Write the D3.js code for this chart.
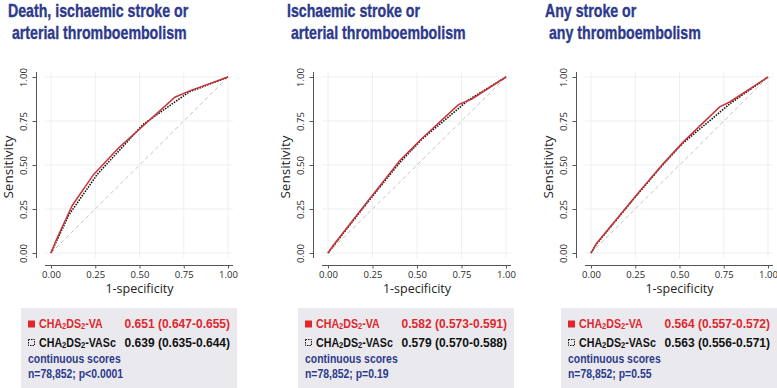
<!DOCTYPE html>
<html>
<head>
<meta charset="utf-8">
<style>
  body { margin: 0; background: #fff; }
  svg { display: block; }
  .title { font-family: "Liberation Sans", Arial, sans-serif; font-weight: bold; fill: #2d3a8c; stroke: #2d3a8c; stroke-width: 0.35px; white-space: pre; }
  .axis text { font-family: "Open Sans", sans-serif; font-size: 9.5px; fill: #2a2a2a; }
  .axis line { stroke: #555; }
  .lab { font-family: "Open Sans", sans-serif; font-size: 12.5px; fill: #222; }
  .leg { font-family: "Liberation Sans", Arial, sans-serif; font-weight: bold; }
  .grid line { stroke: #efefef; stroke-width: 1; }
</style>
</head>
<body>
<script src="https://cdn.jsdelivr.net/npm/d3@7"></script>
<script>
  var width = 777, height = 388;

  // titles, two lines each
  const titles = [
    ["Death, ischaemic stroke or", " arterial thromboembolism"],
    ["Ischaemic stroke or", " arterial thromboembolism"],
    ["Any stroke or", " any thromboembolism"]
  ];

  // ROC points [1-specificity, sensitivity]
  const vaCurves = [
    [[0, 0], [0.03, 0.075], [0.12, 0.27], [0.24, 0.445], [0.38, 0.595], [0.70, 0.885], [0.78, 0.92], [1, 1]],
    [[0, 0], [0.03, 0.044], [0.22, 0.29], [0.405, 0.527], [0.526, 0.649], [0.733, 0.843], [0.808, 0.875], [1, 1]],
    [[0, 0], [0.03, 0.053], [0.256, 0.328], [0.407, 0.507], [0.52, 0.63], [0.727, 0.83], [0.784, 0.858], [1, 1]]
  ];
  const vascCurves = [
    [[0, 0], [0.03, 0.065], [0.10, 0.215], [0.26, 0.445], [0.52, 0.73], [0.78, 0.915], [1, 1]],
    [[0, 0], [0.03, 0.04], [0.22, 0.285], [0.40, 0.51], [0.526, 0.645], [0.79, 0.87], [1, 1]],
    [[0, 0], [0.03, 0.05], [0.256, 0.325], [0.407, 0.503], [0.52, 0.625], [0.79, 0.852], [1, 1]]
  ];

  const vaAuc = ["0.651 (0.647-0.655)", "0.582 (0.573-0.591)", "0.564 (0.557-0.572)"];
  const vascAuc = ["0.639 (0.635-0.644)", "0.579 (0.570-0.588)", "0.563 (0.556-0.571)"];
  const footNotes = ["n=78,852; p<0.0001", "n=78,852; p=0.19", "n=78,852; p=0.55"];
  const tickVals = [0, 0.25, 0.5, 0.75, 1];

  // pixel of x=0 and x=1 per panel, plus title x
  const panelX = [[51, 228], [328, 506], [591, 768]];
  const titleX = [8, 287, 545];

  const red = "#c8343a";
  const redText = "#e0262d";
  const navy = "#2d3a8c";

  var svg = d3.select("body").append("svg")
    .attr("width", width).attr("height", height);

  var y = d3.scaleLinear().domain([0, 1]).range([253, 77]);
  var fmt = d3.format(".2f");

  // regular sans squeezed sideways to look condensed
  function narrowText(g, cls, x, yy, size, sx) {
    return g.append("text").attr("class", cls)
      .attr("transform", "translate(" + x + "," + yy + ") scale(" + sx + ",1)")
      .style("font-size", size + "px");
  }

  function scoreName(sel, suffix) {
    sel.append("tspan").text("CHA");
    sel.append("tspan").attr("font-size", "9.5px").attr("dy", 1).text("2");
    sel.append("tspan").attr("dy", -1).text("DS");
    sel.append("tspan").attr("font-size", "9.5px").attr("dy", 1).text("2");
    sel.append("tspan").attr("dy", -1).text(suffix);
  }

  titles.forEach(function (t, i) {
    var x = d3.scaleLinear().domain([0, 1]).range(panelX[i]);
    var g = svg.append("g");
    var x0 = panelX[i][0], x1 = panelX[i][1];
    var yAxisX = x0 - 14.5, xAxisY = 265.5;

    // title
    narrowText(g, "title", titleX[i], 16.5, 17.5, 0.81).text(t[0]);
    narrowText(g, "title", titleX[i], 38.5, 17.5, 0.81).text(t[1]);

    // grid
    var grid = g.append("g").attr("class", "grid");
    grid.selectAll(".v").data(tickVals).join("line").attr("class", "v")
      .attr("x1", d => x(d)).attr("x2", d => x(d)).attr("y1", 72).attr("y2", 258);
    grid.selectAll(".h").data(tickVals).join("line").attr("class", "h")
      .attr("x1", x0 - 6).attr("x2", x1 + 5).attr("y1", d => y(d)).attr("y2", d => y(d));

    // axes
    var ya = g.append("g").attr("class", "axis").attr("transform", "translate(" + yAxisX + ",0)")
      .call(d3.axisLeft(y).tickValues(tickVals).tickSize(4).tickFormat(fmt));
    ya.select(".domain").remove();
    ya.append("line").attr("x1", 0).attr("x2", 0).attr("y1", 72).attr("y2", 258);
    ya.selectAll("text").attr("x", 0).attr("y", -10).attr("dy", 0)
      .attr("transform", "rotate(-90)").attr("text-anchor", "middle");

    var xa = g.append("g").attr("class", "axis").attr("transform", "translate(0," + xAxisY + ")")
      .call(d3.axisBottom(x).tickValues(tickVals).tickSize(3).tickPadding(3).tickFormat(fmt));
    xa.select(".domain").remove();
    xa.append("line").attr("x1", x0 - 6).attr("x2", x1 + 5).attr("y1", 0).attr("y2", 0);

    g.append("text").attr("class", "lab").attr("x", (x0 + x1) / 2).attr("y", 293)
      .attr("text-anchor", "middle").text("1-specificity");
    g.append("text").attr("class", "lab").style("font-size", "13.5px")
      .attr("transform", "translate(" + (yAxisX - 24) + ",167) rotate(-90)")
      .attr("text-anchor", "middle").text("Sensitivity");

    // curves
    var line = d3.line().x(d => x(d[0])).y(d => y(d[1]));
    g.append("path").datum([[0, 0], [1, 1]]).attr("d", line)
      .attr("fill", "none").attr("stroke", "#c4c4c4").attr("stroke-width", 1)
      .attr("stroke-dasharray", "4,3");
    g.append("path").datum(vascCurves[i]).attr("d", line)
      .attr("fill", "none").attr("stroke", "#111").attr("stroke-width", 1.6)
      .attr("stroke-dasharray", "1.5,1.2");
    g.append("path").datum(vaCurves[i]).attr("d", line)
      .attr("fill", "none").attr("stroke", red).attr("stroke-width", 1.5);

    // legend box
    var bx = x0 - 30;
    g.append("rect").attr("x", bx).attr("y", 308).attr("width", 216).attr("height", 82)
      .attr("fill", "#eaeaee");
    g.append("rect").attr("x", bx + 7).attr("y", 320.5).attr("width", 7).attr("height", 7)
      .attr("fill", redText);
    g.append("rect").attr("x", bx + 7.5).attr("y", 339.5).attr("width", 6).attr("height", 6)
      .attr("fill", "none").attr("stroke", "#111").attr("stroke-width", 1)
      .attr("stroke-dasharray", "1.5,1");

    scoreName(narrowText(g, "leg", bx + 18, 327.5, 13.5, 0.79).attr("fill", redText), "-VA");
    narrowText(g, "leg", bx + 209, 327.5, 13.5, 0.89).attr("fill", redText)
      .attr("text-anchor", "end").text(vaAuc[i]);

    scoreName(narrowText(g, "leg", bx + 18, 346.5, 13.5, 0.79).attr("fill", "#111"), "-VASc");
    narrowText(g, "leg", bx + 209, 346.5, 13.5, 0.89).attr("fill", "#111")
      .attr("text-anchor", "end").text(vascAuc[i]);

    narrowText(g, "leg", bx + 7, 362.5, 12, 0.87).attr("fill", navy).text("continuous scores");
    narrowText(g, "leg", bx + 7, 377.5, 12, 0.87).attr("fill", navy).text(footNotes[i]);
  });
</script>
</body>
</html>
